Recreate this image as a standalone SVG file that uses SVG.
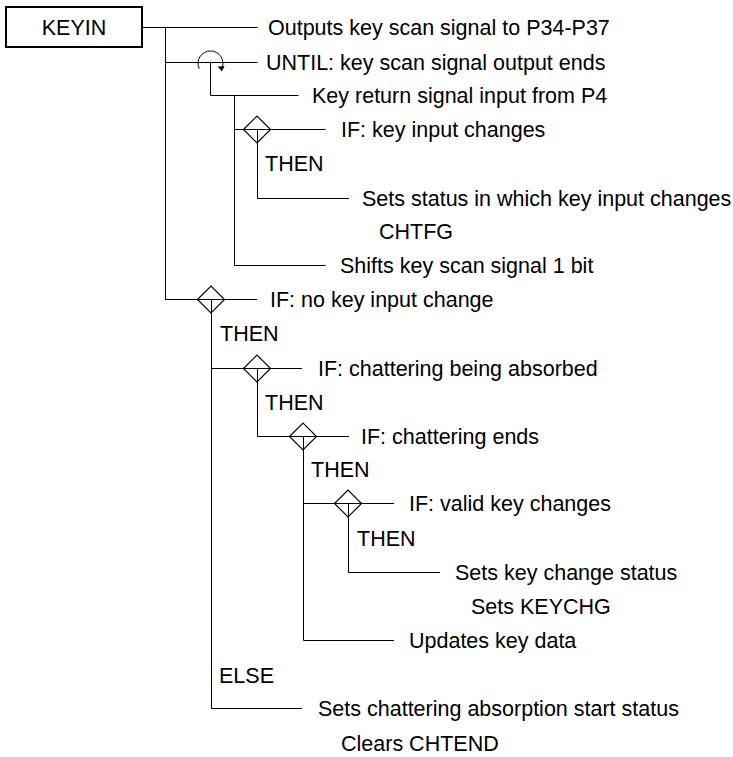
<svg xmlns="http://www.w3.org/2000/svg" width="733" height="757" viewBox="0 0 733 757">
<defs>
<style>
text{font-family:"Liberation Sans",Arial,sans-serif;font-size:21.5px;fill:#000}
.ln{fill:none;stroke:#000;stroke-width:1}
.dia{fill:none;stroke:#000;stroke-width:1.2}
</style>
<polygon id="dm" points="-13.5,0 0,-13.5 13.5,0 0,13.5"/>
</defs>
<rect width="733" height="757" fill="#fff"/>
<g id="keyin">
<rect x="6" y="7" width="136" height="40" fill="#fff" stroke="#000" stroke-width="2"/>
<text x="74" y="35" text-anchor="middle">KEYIN</text>
</g>
<g id="connectors">
<path class="ln" d="M142 27.5H257.5"/>
<path class="ln" d="M165.5 27V299"/>
<path class="ln" d="M165 62.5H257.5"/>
<path class="ln" d="M199.2 68.8A12.5 12.5 0 1 1 221.8 68.8"/>
<polygon points="221.8,71.5 217.8,66.6 224.6,66.2" fill="#000"/>
<path class="ln" d="M210.5 62V95.5H298.5"/>
<path class="ln" d="M234.5 95V265.5H325.5"/>
<path class="ln" d="M234 129.5H325.5"/>
<use href="#dm" x="257" y="129.5" class="dia"/>
<path class="ln" d="M257.5 129.5V198.5H349"/>
<path class="ln" d="M165 299.5H257"/>
<use href="#dm" x="211" y="299.5" class="dia"/>
<path class="ln" d="M211.5 299.5V708.5H302"/>
<path class="ln" d="M211 368.5H302"/>
<use href="#dm" x="257" y="368.5" class="dia"/>
<path class="ln" d="M257.5 368.5V436.5H349"/>
<use href="#dm" x="303" y="436.5" class="dia"/>
<path class="ln" d="M303.5 436.5V640.5H394"/>
<path class="ln" d="M303 503.5H394"/>
<use href="#dm" x="348" y="503.5" class="dia"/>
<path class="ln" d="M348.5 503.5V572.5H440"/>
</g>
<g id="n1"><text x="268" y="35">Outputs key scan signal to P34-P37</text></g>
<g id="n2"><text x="266" y="70">UNTIL: key scan signal output ends</text></g>
<g id="n3"><text x="312" y="103">Key return signal input from P4</text></g>
<g id="n4"><text x="341" y="137">IF: key input changes</text></g>
<g id="n5"><text x="265" y="171">THEN</text></g>
<g id="n6"><text x="362" y="206">Sets status in which key input changes</text></g>
<g id="n7"><text x="379" y="239">CHTFG</text></g>
<g id="n8"><text x="340" y="273">Shifts key scan signal 1 bit</text></g>
<g id="n9"><text x="270" y="307">IF: no key input change</text></g>
<g id="n10"><text x="220" y="341">THEN</text></g>
<g id="n11"><text x="318" y="376">IF: chattering being absorbed</text></g>
<g id="n12"><text x="265" y="410">THEN</text></g>
<g id="n13"><text x="361" y="444">IF: chattering ends</text></g>
<g id="n14"><text x="311" y="477">THEN</text></g>
<g id="n15"><text x="409" y="511">IF: valid key changes</text></g>
<g id="n16"><text x="357" y="546">THEN</text></g>
<g id="n17"><text x="455" y="580">Sets key change status</text></g>
<g id="n18"><text x="471" y="614">Sets KEYCHG</text></g>
<g id="n19"><text x="409" y="648">Updates key data</text></g>
<g id="n20"><text x="219" y="683">ELSE</text></g>
<g id="n21"><text x="318" y="716">Sets chattering absorption start status</text></g>
<g id="n22"><text x="341" y="751">Clears CHTEND</text></g>
</svg>
